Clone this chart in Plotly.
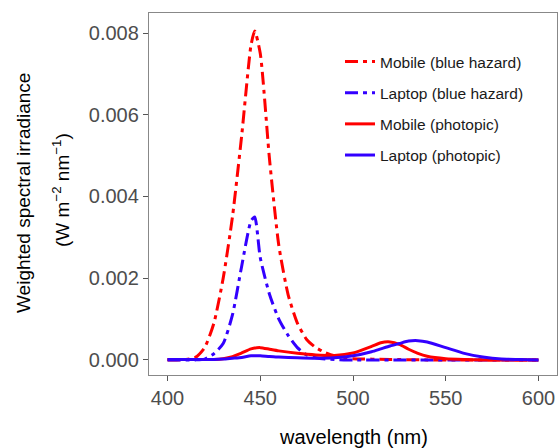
import plotly.graph_objects as go

wl_hazard = [400, 405, 410, 415, 420, 425, 430, 435, 440, 445, 447, 450, 455, 460, 465, 470, 475, 480, 485, 490, 495, 500, 520, 540, 560, 580, 600]
mobile_hazard = [0, 0, 0.00001, 0.00006, 0.0003, 0.0009, 0.0020, 0.0035, 0.0055, 0.0077, 0.00805, 0.0075, 0.0049, 0.0028, 0.0016, 0.0009, 0.0005, 0.0003, 0.00018, 0.0001, 0.00005, 0.00003, 0.00001, 0, 0, 0, 0]
laptop_hazard = [0, 0, 0, 0, 0.00002, 0.00015, 0.0004, 0.0011, 0.0023, 0.0034, 0.0035, 0.0025, 0.0016, 0.0010, 0.0006, 0.0003, 0.00012, 0.00005, 0.00002, 0.00001, 0, 0, 0, 0, 0, 0, 0]

wl_photopic = [400, 410, 420, 425, 430, 435, 440, 445, 450, 455, 460, 470, 480, 490, 500, 510, 515, 520, 525, 530, 535, 540, 550, 560, 570, 580, 590, 600]
mobile_photopic = [0.00001, 0.00001, 0.00001, 0.00001, 0.00003, 0.00008, 0.00017, 0.00027, 0.0003, 0.00026, 0.00022, 0.00016, 0.00012, 0.00011, 0.00017, 0.00033, 0.00042, 0.00044, 0.00038, 0.00026, 0.00016, 0.00009, 0.00003, 0.00001, 0, 0, 0, 0]
laptop_photopic = [0.00001, 0.00001, 0.00001, 0.00001, 0.00002, 0.00004, 0.00006, 0.0001, 0.0001, 0.00008, 0.00007, 0.00005, 0.00004, 0.00005, 0.0001, 0.0002, 0.00027, 0.00034, 0.0004, 0.00046, 0.00047, 0.00044, 0.0003, 0.00016, 0.00007, 0.00002, 0.00001, 0]

x_ticks = [400, 450, 500, 550, 600]
y_ticks = [0.000, 0.002, 0.004, 0.006, 0.008]
y_tick_labels = ["0.000", "0.002", "0.004", "0.006", "0.008"]

RED = "#FF0000"
BLUE = "#3300FF"
DASH = "13px,5px,4px,5px"

fig = go.Figure()
series = [
    ("Mobile (blue hazard)", wl_hazard, mobile_hazard, RED, DASH),
    ("Laptop (blue hazard)", wl_hazard, laptop_hazard, BLUE, DASH),
    ("Mobile (photopic)", wl_photopic, mobile_photopic, RED, "solid"),
    ("Laptop (photopic)", wl_photopic, laptop_photopic, BLUE, "solid"),
]
for i, (name, x, y, c, d) in enumerate(series):
    fig.add_trace(go.Scatter(x=x, y=y, name=name, mode="lines", legendgroup=str(i),
                             line=dict(color=c, width=3, dash=d, shape="spline", smoothing=0.6)))

font = "Liberation Sans, Arial, sans-serif"
L, R, T, B = 149, 2, 13, 73
PW, PH = 559 - L - R, 448 - T - B

def px_x(px):
    return (px - L) / PW

def px_y(py):
    return (448 - B - py) / PH

fig.update_layout(
    width=559, height=448,
    margin=dict(l=L, r=R, t=T, b=B),
    paper_bgcolor="white", plot_bgcolor="white",
    font=dict(family=font, color="black"),
    showlegend=True,
    legend=dict(x=px_x(340), y=px_y(45), xanchor="left", yanchor="top", bgcolor="rgba(0,0,0,0)",
                font=dict(size=15.5, color="#1a1a1a"), tracegroupgap=8, itemwidth=30),
    xaxis=dict(range=[390, 610], tickvals=x_ticks, ticks="outside", ticklen=5, tickcolor="#555",
               tickfont=dict(size=20, color="#4d4d4d"), showgrid=False, zeroline=False,
               showline=True, linecolor="#888", linewidth=1.3, mirror=True, automargin=False),
    yaxis=dict(range=[-0.00037, 0.00849], tickvals=y_ticks, ticktext=y_tick_labels, ticks="outside",
               ticklen=5, tickcolor="#555", tickfont=dict(size=20, color="#4d4d4d"),
               showgrid=False, zeroline=False, showline=True, linecolor="#888", linewidth=1.3,
               mirror=True, automargin=False),
    annotations=[
        dict(text="wavelength (nm)", xref="paper", yref="paper", x=0.5, y=px_y(437),
             xanchor="center", yanchor="middle", showarrow=False, font=dict(size=20, color="black")),
        dict(text="Weighted spectral irradiance", xref="paper", yref="paper", x=px_x(24), y=px_y(193),
             xanchor="center", yanchor="middle", textangle=-90, showarrow=False,
             font=dict(size=19, color="black")),
        dict(text="(W m<sup>−2</sup> nm<sup>−1</sup>)", xref="paper", yref="paper", x=px_x(61), y=px_y(190),
             xanchor="center", yanchor="middle", textangle=-90, showarrow=False,
             font=dict(size=19, color="black")),
    ],
)
fig.write_html("out.html", config={"displayModeBar": False},
               post_script="document.body.style.margin='0';document.body.style.overflow='hidden';")
